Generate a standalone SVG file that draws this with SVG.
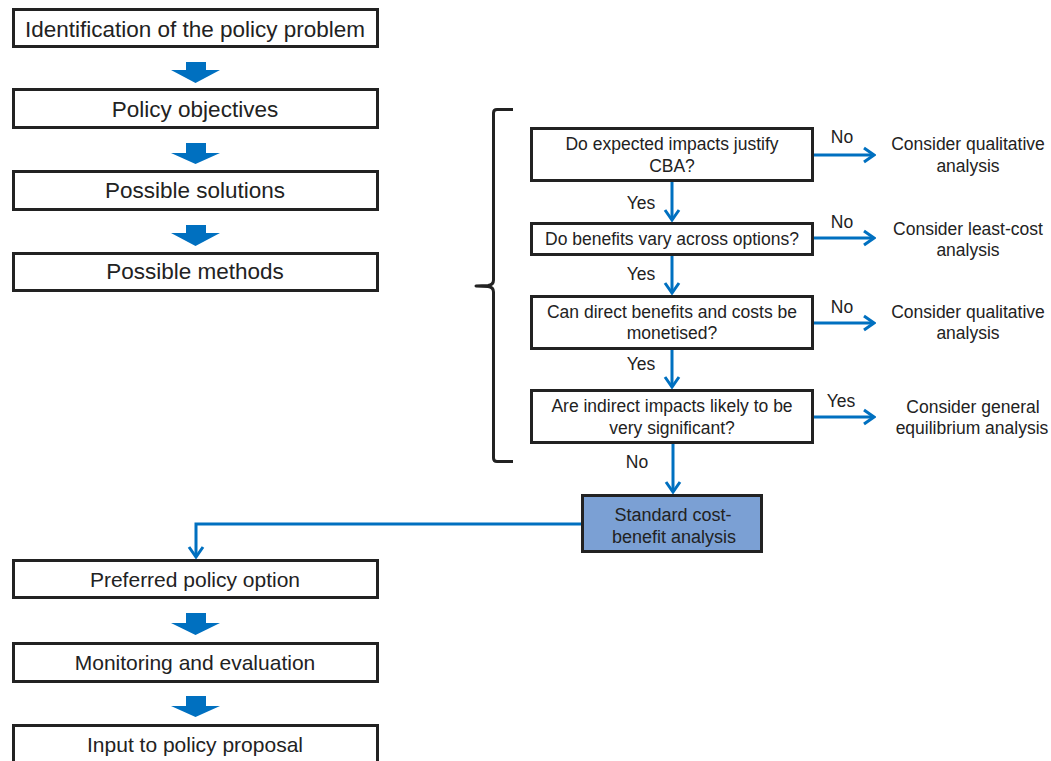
<svg xmlns="http://www.w3.org/2000/svg" width="1051" height="761" viewBox="0 0 1051 761">
<style>
.box{fill:#fff;stroke:#222;stroke-width:3}
.cba{fill:#7ba0d4;stroke:#222;stroke-width:3}
.t{font-family:"Liberation Sans",Arial,sans-serif;fill:#222;text-anchor:middle}
.big{font-size:22.5px}
.mid{font-size:21px}
.sm{font-size:17.5px}
.sc{font-size:18px}
.blk{fill:#0070c0}
.ln{fill:none;stroke:#0070c0;stroke-width:3;marker-end:url(#ah)}
.brace{fill:none;stroke:#222;stroke-width:3;stroke-linejoin:round}
</style>
<defs>
<marker id="ah" markerUnits="userSpaceOnUse" viewBox="-12 -9 14 18" markerWidth="14" markerHeight="18" refX="0" refY="0" orient="auto">
<path d="M-10,-7 L0,0 L-10,7" fill="none" stroke="#0070c0" stroke-width="3"/>
</marker>
</defs>
<rect width="1051" height="761" fill="#fff"/>

<g id="n1"><rect class="box" x="13.5" y="9.5" width="364" height="37"/><text class="t big" x="195" y="36.5">Identification of the policy problem</text></g>
<g id="n2"><rect class="box" x="13.5" y="89.5" width="364" height="38"/><text class="t big" x="195" y="117">Policy objectives</text></g>
<g id="n3"><rect class="box" x="13.5" y="171.5" width="364" height="38"/><text class="t big" x="195" y="197.5">Possible solutions</text></g>
<g id="n4"><rect class="box" x="13.5" y="253.5" width="364" height="37"/><text class="t big" x="195" y="279">Possible methods</text></g>

<g id="n5"><rect class="box" x="13.5" y="560.5" width="364" height="37"/><text class="t mid" x="195" y="587">Preferred policy option</text></g>
<g id="n6"><rect class="box" x="13.5" y="643.5" width="364" height="38"/><text class="t mid" x="195" y="669.5">Monitoring and evaluation</text></g>
<g id="n7"><rect class="box" x="13.5" y="725.5" width="364" height="45"/><text class="t mid" x="195" y="752">Input to policy proposal</text></g>

<g id="d1"><rect class="box" x="531.5" y="128.5" width="281" height="52"/><text class="t sm" x="672" y="150">Do expected impacts justify</text><text class="t sm" x="672" y="172">CBA?</text></g>
<g id="d2"><rect class="box" x="531.5" y="223.5" width="281" height="31"/><text class="t sm" x="672" y="244.5">Do benefits vary across options?</text></g>
<g id="d3"><rect class="box" x="531.5" y="296.5" width="281" height="52"/><text class="t sm" x="672" y="318">Can direct benefits and costs be</text><text class="t sm" x="672" y="339">monetised?</text></g>
<g id="d4"><rect class="box" x="531.5" y="390.5" width="281" height="52"/><text class="t sm" x="672" y="412">Are indirect impacts likely to be</text><text class="t sm" x="672" y="434">very significant?</text></g>

<g id="cba"><rect class="cba" x="582.5" y="495.5" width="179" height="56"/><text class="t sc" x="673" y="521">Standard cost-</text><text class="t sc" x="674" y="542.5">benefit analysis</text></g>

<g id="o1"><text class="t sm" x="968" y="150">Consider qualitative</text><text class="t sm" x="968" y="172">analysis</text></g>
<g id="o2"><text class="t sm" x="968" y="235">Consider least-cost</text><text class="t sm" x="968" y="256">analysis</text></g>
<g id="o3"><text class="t sm" x="968" y="318">Consider qualitative</text><text class="t sm" x="968" y="339">analysis</text></g>
<g id="o4"><text class="t sm" x="973" y="413">Consider general</text><text class="t sm" x="972" y="434">equilibrium analysis</text></g>

<g id="brace"><path class="brace" d="M513,109.5 L497,109.5 Q493.5,109.5 493.5,113 L493.5,280 Q493.5,285 488,285.5 L476,286 L488,286.5 Q493.5,287 493.5,292 L493.5,458 Q493.5,461.5 497,461.5 L513,461.5"/></g>

<g id="connectors">
<polygon class="blk" points="186,62 206,62 206,70 220,70 195.5,83 171,70 186,70"/>
<polygon class="blk" points="186,143 206,143 206,153 220,153 195.5,164 171,153 186,153"/>
<polygon class="blk" points="186,225 206,225 206,233 220,233 195.5,246 171,233 186,233"/>
<polygon class="blk" points="186,613 206,613 206,623 220,623 195.5,635 171,623 186,623"/>
<polygon class="blk" points="186,696 206,696 206,706 220,706 195.5,717 171,706 186,706"/>

<path class="ln" d="M672,182 L672,220"/>
<path class="ln" d="M672,256 L672,293"/>
<path class="ln" d="M672,350 L672,387"/>
<path class="ln" d="M673,444 L673,492"/>
<path class="ln" d="M814,155 L874,155"/>
<path class="ln" d="M814,238 L874,238"/>
<path class="ln" d="M814,323 L874,323"/>
<path class="ln" d="M814,417 L874,417"/>
<path class="ln" d="M581,524 L196,524 L196,557"/>

<text class="t sm" x="641" y="209">Yes</text>
<text class="t sm" x="641" y="280">Yes</text>
<text class="t sm" x="641" y="370">Yes</text>
<text class="t sm" x="637" y="468">No</text>
<text class="t sm" x="842" y="143">No</text>
<text class="t sm" x="842" y="228">No</text>
<text class="t sm" x="842" y="313">No</text>
<text class="t sm" x="841" y="407">Yes</text>
</g>
</svg>
